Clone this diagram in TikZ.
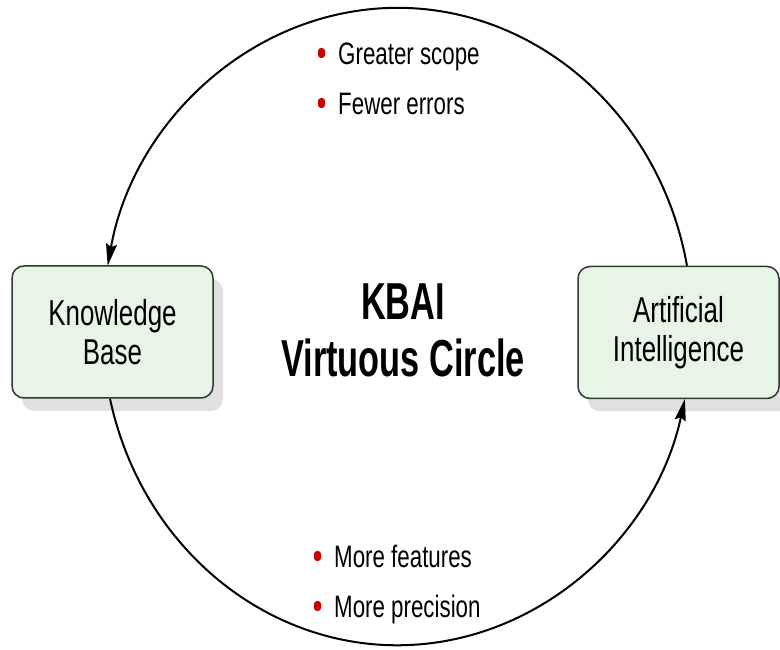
\documentclass[tikz,border=0pt]{standalone}
\usepackage{fontspec}
\setmainfont{Liberation Sans}
\newfontfamily\kbnarrow[FakeStretch=0.72]{Liberation Sans}
\newfontfamily\kbnarrowbold[FakeStretch=0.66]{Liberation Sans Bold}
\usepackage{xcolor}
\usepackage{tikz}
\usetikzlibrary{arrows.meta}
\usetikzlibrary{shadows}
\definecolor{boxfill}{RGB}{230,245,229}
\definecolor{boxline}{RGB}{50,55,50}
\definecolor{shadowgray}{RGB}{224,224,224}
\definecolor{dotred}{RGB}{204,0,0}
\newcommand\kbboxfont{\kbnarrow\fontsize{36}{39}\selectfont}
\newcommand\kbitemfont{\kbnarrow\fontsize{31}{36}\selectfont}
\newcommand\kbtitlefont{\kbnarrowbold\fontsize{52}{57}\selectfont}
\tikzset{%
  kbai box/.style={
    rectangle,
    rounded corners=12pt,
    draw=boxline,
    line width=1.5pt,
    fill=boxfill,
    minimum width=201pt,
    minimum height=132pt,
    align=center,
    font=\kbboxfont,
    drop shadow={shadow xshift=10pt,shadow yshift=-13pt,fill=shadowgray,opacity=1}
  },
  bullet item/.style={
    anchor=base west,
    inner sep=0pt,
    font=\kbitemfont
  },
  red dot/.style={
    rectangle,
    rounded corners=3pt,
    fill=dotred,
    minimum width=7pt,
    minimum height=10pt,
    inner sep=0pt
  },
  cycle arrow/.style={
    line width=2pt,
    -{Stealth[length=22pt,width=11pt,inset=3pt]}
  },
}

\begin{document}
\begin{tikzpicture}[x=1pt,y=1pt]
  \useasboundingbox (0,0) rectangle (780,650);

  \node (kb) [kbai box] at (112.5,318) {Knowledge\\Base};
  \node (ai) [kbai box] at (678.5,317.5) {Artificial\\Intelligence};

  \node (title) [font=\kbtitlefont,align=center] at (403,320) {KBAI\\Virtuous Circle};

  \node (scope) [bullet item] at (338,585) {Greater scope};
  \node (errors) [bullet item] at (338,535) {Fewer errors};
  \node (features) [bullet item] at (334,82) {More features};
  \node (precision) [bullet item] at (334,32) {More precision};
  \foreach \n in {scope,errors,features,precision}
    \node (\n dot) [red dot] at ([xshift=-16.5pt,yshift=12pt]\n.base west) {};

  % the cycle: AI feeds the knowledge base over the top, back underneath
  \draw [cycle arrow] ([xshift=8.5pt]ai.north)
    arc[start angle=10.9,end angle=169.1,x radius=295pt,y radius=318pt];
  \draw [cycle arrow] ([xshift=-2.5pt]kb.south)
    arc[start angle=193,end angle=347,x radius=295pt,y radius=318pt];
\end{tikzpicture}
\end{document}
